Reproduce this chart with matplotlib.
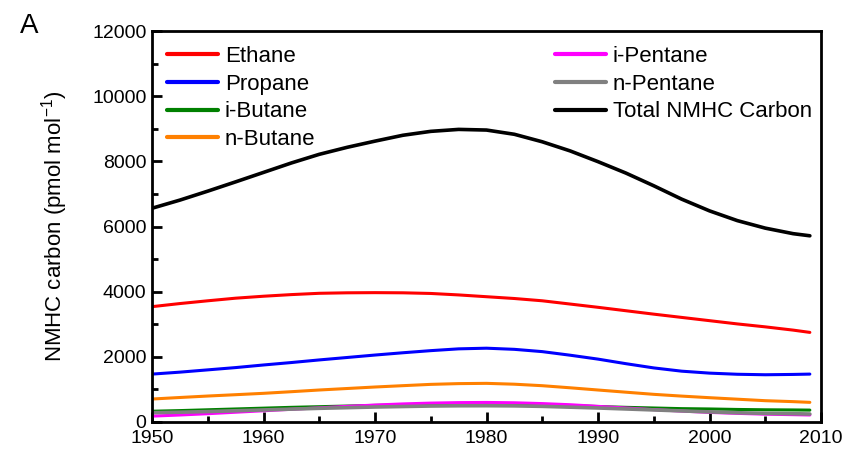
import matplotlib
matplotlib.use("Agg")
import matplotlib.pyplot as plt
from matplotlib.ticker import MultipleLocator

plt.rcParams["font.family"] = ["Liberation Sans", "DejaVu Sans"]
plt.rcParams["mathtext.default"] = "regular"

# Modelled NMHC carbon mixing ratios (pmol/mol), 1950-2009
years = [1950, 1952.5, 1955, 1957.5, 1960, 1962.5, 1965, 1967.5, 1970, 1972.5,
         1975, 1977.5, 1980, 1982.5, 1985, 1987.5, 1990, 1992.5, 1995, 1997.5,
         2000, 2002.5, 2005, 2007.5, 2009]
ethane = [3540, 3635, 3720, 3800, 3860, 3910, 3950, 3965, 3970, 3965,
          3945, 3900, 3845, 3790, 3720, 3620, 3520, 3415, 3310, 3210,
          3110, 3010, 2920, 2820, 2750]
propane = [1470, 1530, 1600, 1670, 1750, 1825, 1905, 1980, 2055, 2125,
           2190, 2245, 2265, 2230, 2160, 2050, 1930, 1790, 1660, 1560,
           1500, 1465, 1450, 1460, 1470]
i_butane = [330, 350, 375, 400, 425, 450, 470, 490, 510, 525,
            540, 550, 555, 545, 530, 505, 475, 450, 430, 410,
            400, 385, 375, 370, 365]
n_butane = [705, 752, 797, 838, 880, 930, 982, 1028, 1074, 1115,
            1155, 1178, 1186, 1160, 1114, 1050, 982, 915, 849, 795,
            746, 700, 654, 625, 603]
i_pentane = [180, 215, 255, 300, 345, 390, 435, 480, 520, 555,
             580, 595, 600, 590, 565, 530, 480, 430, 380, 335,
             295, 265, 240, 225, 215]
n_pentane = [285, 300, 320, 345, 370, 395, 420, 440, 460, 475,
             490, 498, 500, 495, 480, 455, 430, 400, 370, 340,
             310, 285, 265, 255, 245]
total = [6560, 6810, 7085, 7370, 7660, 7950, 8215, 8430, 8620, 8800,
         8920, 8980, 8960, 8830, 8600, 8320, 7990, 7640, 7250, 6840,
         6480, 6180, 5950, 5780, 5715]

series = [
    ("Ethane", ethane, "#ff0000", 2.2),
    ("Propane", propane, "#0000ff", 2.2),
    ("i-Butane", i_butane, "#008000", 2.2),
    ("n-Butane", n_butane, "#ff8000", 2.2),
    ("i-Pentane", i_pentane, "#ff00ff", 2.2),
    ("n-Pentane", n_pentane, "#808080", 2.6),
    ("Total NMHC Carbon", total, "#000000", 2.6),
]

W, H = 846, 451
fig = plt.figure(figsize=(W / 100, H / 100), dpi=100)
ax = fig.add_axes([152 / W, 1 - 422 / H, (821 - 152) / W, (422 - 31) / H])

handles = []
for name, vals, color, lw in series:
    (ln,) = ax.plot(years, vals, color=color, lw=lw, label=name,
                    solid_capstyle="round", solid_joinstyle="round")
    handles.append(ln)

ax.set_xlim(1950, 2010)
ax.set_ylim(0, 12000)
ax.xaxis.set_major_locator(MultipleLocator(10))
ax.xaxis.set_minor_locator(MultipleLocator(5))
ax.yaxis.set_major_locator(MultipleLocator(2000))
ax.yaxis.set_minor_locator(MultipleLocator(1000))
ax.tick_params(which="both", direction="in", width=2, labelsize=14,
               top=False, right=False)
ax.tick_params(which="major", length=7, pad=4)
ax.tick_params(axis="x", which="major", pad=6)
ax.tick_params(which="minor", length=4)
for sp in ax.spines.values():
    sp.set_linewidth(2)

ax.set_ylabel("NMHC carbon (pmol mol$^{-1}$)", fontsize=16, labelpad=16)

leg_kw = dict(frameon=False, fontsize=16, handlelength=2.3, handletextpad=0.3,
              labelspacing=0.3, borderpad=0, borderaxespad=0, loc="upper left",
              bbox_transform=fig.transFigure)
leg1 = ax.legend(handles=handles[:4], bbox_to_anchor=(167 / W, 1 - 46 / H), **leg_kw)
for h in leg1.legend_handles:
    h.set_linewidth(3)
ax.add_artist(leg1)
leg2 = ax.legend(handles=handles[4:], bbox_to_anchor=(555 / W, 1 - 46 / H), **leg_kw)
for h in leg2.legend_handles:
    h.set_linewidth(3)

fig.text(20 / W, 1 - 33 / H, "A", fontsize=20, ha="left", va="baseline")

fig.savefig("out.png", dpi=100)
